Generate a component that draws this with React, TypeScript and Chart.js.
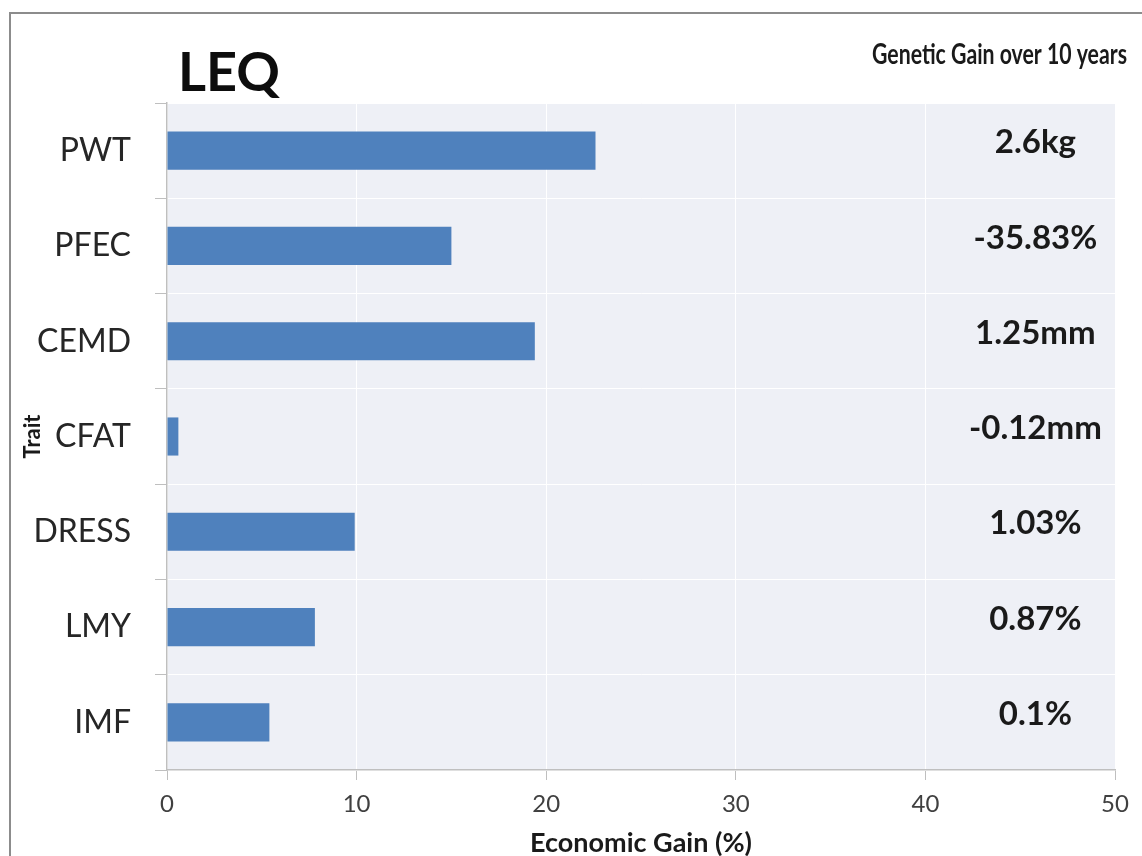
import React, { useEffect, useRef } from "react";
import { Chart, registerables } from "chart.js";

Chart.register(...registerables);

const categories = ["PWT", "PFEC", "CEMD", "CFAT", "DRESS", "LMY", "IMF"];
const economicGain = [22.6, 15.0, 19.4, 0.6, 9.9, 7.8, 5.4];
const geneticGainLabels = ["2.6kg", "-35.83%", "1.25mm", "-0.12mm", "1.03%", "0.87%", "0.1%"];
const xTicks = [0, 10, 20, 30, 40, 50];
const chartTitle = "LEQ";
const cornerNote = "Genetic Gain over 10 years";
const xAxisTitle = "Economic Gain (%)";
const yAxisTitle = "Trait";
const annotationX = 45.8;

const FONT = "Lato, 'Open Sans', sans-serif";

const decorPlugin = {
  id: "decor",
  beforeDraw(chart: any) {
    const { ctx, chartArea } = chart;
    ctx.save();
    ctx.fillStyle = "#ffffff";
    ctx.fillRect(0, 0, chart.width, chart.height);
    ctx.fillStyle = "#eef0f6";
    ctx.fillRect(chartArea.left, chartArea.top, chartArea.right - chartArea.left, chartArea.bottom - chartArea.top);
    ctx.strokeStyle = "#8c8c8c";
    ctx.lineWidth = 2;
    ctx.beginPath();
    ctx.moveTo(10, chart.height);
    ctx.lineTo(10, 13);
    ctx.lineTo(chart.width, 13);
    ctx.stroke();
    ctx.restore();
  },
  afterDatasetsDraw(chart: any) {
    const { ctx, scales } = chart;
    const xs = scales.x;
    const ys = scales.y;
    ctx.save();
    ctx.fillStyle = "#1a1a1a";
    ctx.font = `bold 33px ${FONT}`;
    ctx.textAlign = "center";
    ctx.textBaseline = "middle";
    geneticGainLabels.forEach((t, i) => {
      ctx.fillText(t, xs.getPixelForValue(annotationX), ys.getPixelForValue(i) - 8);
    });
    ctx.textAlign = "left";
    ctx.textBaseline = "alphabetic";
    ctx.fillStyle = "#0d0d0d";
    ctx.font = `bold 54px ${FONT}`;
    ctx.fillText(chartTitle, 178, 91);
    ctx.font = `bold 29px ${FONT}`;
    const w = ctx.measureText(cornerNote).width;
    const target = 255;
    ctx.translate(1127, 64);
    ctx.scale(target / w, 1);
    ctx.textAlign = "right";
    ctx.fillStyle = "#1a1a1a";
    ctx.fillText(cornerNote, 0, 0);
    ctx.restore();
  },
};

export default function App() {
  const ref = useRef<HTMLCanvasElement | null>(null);
  useEffect(() => {
    if (!ref.current) return;
    const chart = new Chart(ref.current, {
      type: "bar",
      data: {
        labels: categories,
        datasets: [
          {
            data: economicGain,
            backgroundColor: "#4f81bd",
            borderWidth: 0,
            barPercentage: 0.4,
            categoryPercentage: 1,
          },
        ],
      },
      options: {
        indexAxis: "y",
        animation: false,
        responsive: false,
        devicePixelRatio: 1,
        layout: { padding: { top: 103, right: 27, left: 0, bottom: 0 } },
        plugins: {
          legend: { display: false },
          tooltip: { enabled: false },
          title: { display: false },
        },
        scales: {
          x: {
            min: 0,
            max: 50,
            afterFit: (s: any) => {
              s.height = 86;
            },
            afterBuildTicks: (s: any) => {
              s.ticks = xTicks.map((v) => ({ value: v }));
            },
            grid: { color: "#ffffff", lineWidth: 1, tickColor: "#bfbfbf", tickLength: 10 },
            border: { display: true, color: "#bfbfbf", width: 1.5 },
            ticks: { color: "#404040", font: { family: FONT, size: 24 }, padding: 10 },
            title: {
              display: true,
              text: xAxisTitle,
              color: "#1a1a1a",
              font: { family: FONT, size: 27, weight: "bold" },
              padding: { top: 0, bottom: -3 },
            },
          },
          y: {
            afterFit: (s: any) => {
              s.width = 167;
            },
            grid: { color: "#ffffff", lineWidth: 1, tickColor: "#bfbfbf", tickLength: 12, offset: true },
            border: { display: true, color: "#bfbfbf", width: 1.5 },
            ticks: { color: "#262626", font: { family: FONT, size: 32 }, padding: 24 },
            title: {
              display: true,
              text: yAxisTitle,
              color: "#1a1a1a",
              font: { family: FONT, size: 22, weight: "bold" },
              padding: { top: 20, bottom: 0 },
            },
          },
        },
      },
      plugins: [decorPlugin],
    });
    return () => chart.destroy();
  }, []);
  return (
    <div style={{ position: "fixed", left: 0, top: 0, width: 1142, height: 856, background: "#fff" }}>
      <canvas ref={ref} width={1142} height={856} />
    </div>
  );
}
